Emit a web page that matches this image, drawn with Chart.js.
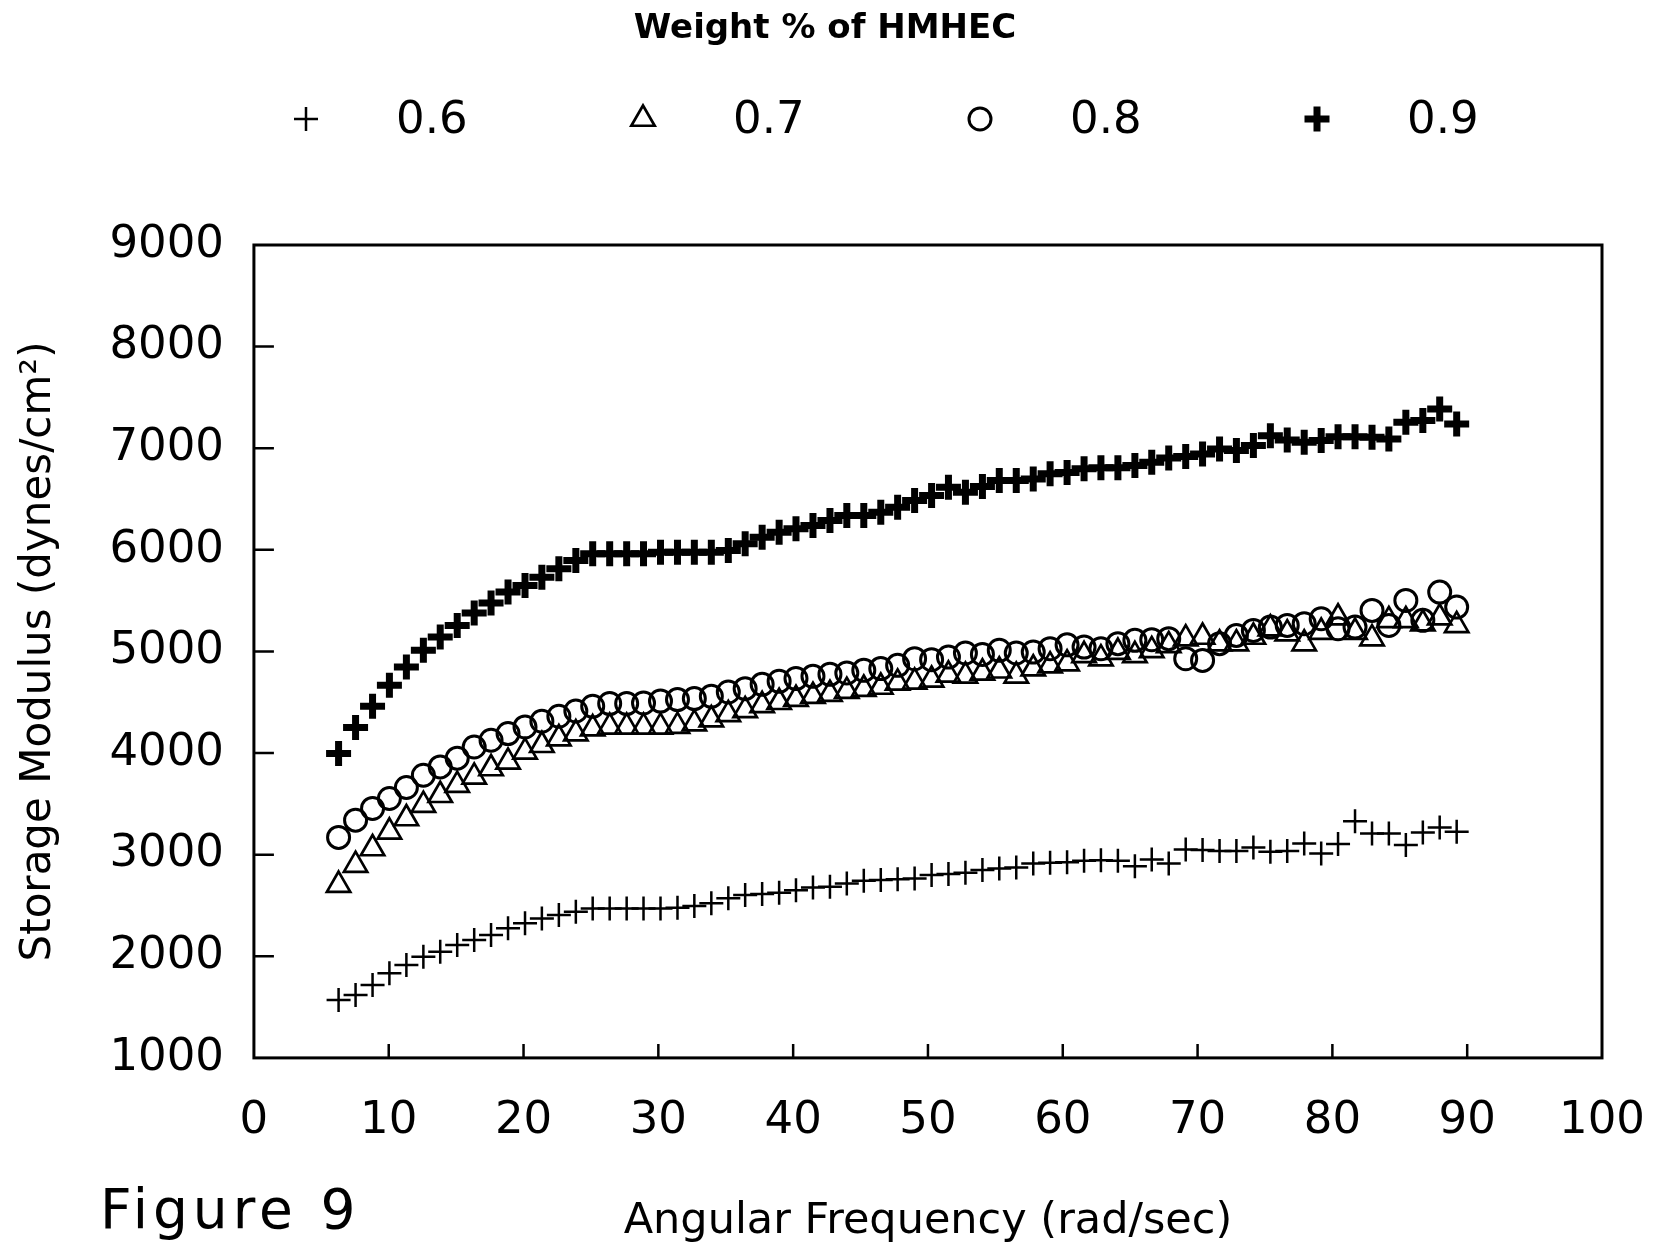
<!DOCTYPE html>
<html>
<head>
<meta charset="utf-8">
<title>Storage Modulus vs Angular Frequency</title>
<script src="https://cdn.jsdelivr.net/npm/chart.js@4.4.1/dist/chart.umd.min.js"></script>
<style>
    html, body { margin: 0; padding: 0; background: #fff; }
    #plot { display: block; }
</style>
</head>
<body>
<canvas id="plot" width="1653" height="1248"></canvas>
<script>
// angular frequency (rad/sec) of each measurement
const freq = [6.28, 7.54, 8.80, 10.05, 11.31, 12.57, 13.82, 15.08, 16.34, 17.59,
    18.85, 20.11, 21.36, 22.62, 23.88, 25.13, 26.39, 27.65, 28.90, 30.16,
    31.42, 32.67, 33.93, 35.19, 36.44, 37.70, 38.96, 40.21, 41.47, 42.73,
    43.98, 45.24, 46.50, 47.75, 49.01, 50.27, 51.52, 52.78, 54.04, 55.29,
    56.55, 57.81, 59.06, 60.32, 61.58, 62.83, 64.09, 65.35, 66.60, 67.86,
    69.12, 70.37, 71.63, 72.88, 74.14, 75.40, 76.65, 77.91, 79.17, 80.42,
    81.68, 82.94, 84.19, 85.45, 86.71, 87.96, 89.22];

// storage modulus (dynes/cm2) per weight % of HMHEC
const g06 = [1570, 1619, 1718, 1833, 1915, 1996, 2045, 2111, 2160, 2209,
    2275, 2324, 2373, 2406, 2438, 2471, 2471, 2471, 2471, 2471,
    2478, 2494, 2521, 2570, 2602, 2612, 2625, 2651, 2678, 2684,
    2717, 2743, 2750, 2757, 2766, 2799, 2809, 2822, 2848, 2865,
    2875, 2914, 2920, 2925, 2940, 2946, 2940, 2887, 2953, 2914,
    3052, 3045, 3035, 3035, 3071, 3028, 3035, 3110, 3012, 3104,
    3330, 3209, 3209, 3094, 3219, 3268, 3225];

const g07 = [2701, 2897, 3061, 3225, 3356, 3487, 3585, 3684, 3765, 3848,
    3913, 4011, 4077, 4143, 4192, 4241, 4257, 4257, 4257, 4257,
    4265, 4290, 4330, 4380, 4420, 4470, 4500, 4530, 4560, 4580,
    4610, 4630, 4650, 4690, 4700, 4720, 4770, 4760, 4790, 4810,
    4760, 4830, 4860, 4880, 4962, 4929, 4994, 4962, 5011, 5060,
    5126, 5142, 5077, 5077, 5142, 5224, 5175, 5077, 5191, 5332,
    5191, 5126, 5306, 5306, 5273, 5332, 5256];

const g08 = [3170, 3340, 3455, 3553, 3661, 3782, 3864, 3950, 4060, 4126,
    4192, 4257, 4313, 4362, 4414, 4460, 4487, 4487, 4493, 4512,
    4526, 4536, 4558, 4601, 4634, 4676, 4706, 4733, 4755, 4775,
    4788, 4814, 4831, 4863, 4929, 4919, 4945, 4985, 4971, 5011,
    4985, 4994, 5027, 5065, 5043, 5027, 5077, 5109, 5116, 5126,
    4929, 4912, 5077, 5158, 5207, 5240, 5256, 5273, 5322, 5224,
    5240, 5404, 5256, 5502, 5306, 5584, 5437];

const g09 = [3995, 4251, 4460, 4667, 4847, 5011, 5142, 5256, 5378, 5476,
    5584, 5650, 5731, 5814, 5895, 5961, 5961, 5961, 5961, 5977,
    5977, 5977, 5977, 5994, 6060, 6125, 6174, 6207, 6239, 6289,
    6338, 6338, 6370, 6419, 6485, 6534, 6616, 6567, 6623, 6682,
    6682, 6698, 6748, 6760, 6797, 6807, 6807, 6829, 6862, 6905,
    6918, 6944, 6993, 6977, 7026, 7124, 7082, 7058, 7075, 7114,
    7114, 7108, 7091, 7255, 7272, 7387, 7239];

const seriesLabels = ["0.6", "0.7", "0.8", "0.9"];
const seriesValues = [g06, g07, g08, g09];

const xTickStep = 10;
const yTickStep = 1000;

const FONT = "'DejaVu Sans', 'Liberation Sans', sans-serif";
const INK = "#000";

// marker look for each concentration
const markerStyles = [
    { pointStyle: "cross", pointRadius: 12, pointBorderWidth: 2.5 },
    { pointStyle: "triangle", pointRadius: 13.5, pointBorderWidth: 2.7 },
    { pointStyle: "circle", pointRadius: 11, pointBorderWidth: 3 },
    { pointStyle: "cross", pointRadius: 12.5, pointBorderWidth: 7 },
];

function make_points(values) {
    var pts = [];
    for (let i = 0; i < freq.length; i++) {
        pts.push({ x: freq[i], y: values[i] });
    }
    return pts;
}

function build_datasets() {
    var datasets = [];
    for (let k = 0; k < seriesLabels.length; k++) {
        const m = markerStyles[k];
        datasets.push({
            label: seriesLabels[k],
            data: make_points(seriesValues[k]),
            pointStyle: m.pointStyle,
            pointRadius: m.pointRadius,
            pointHoverRadius: m.pointRadius,
            pointBorderWidth: m.pointBorderWidth,
            borderColor: INK,
            backgroundColor: "rgba(0,0,0,0)",
            showLine: false,
        });
    }
    return datasets;
}

// box around the plot plus short inward tick marks
const frameTicks = {
    id: "frameTicks",
    beforeDatasetsDraw(chart) {
        const ctx = chart.ctx;
        const area = chart.chartArea;
        const xs = chart.scales.x;
        const ys = chart.scales.y;
        ctx.save();
        ctx.strokeStyle = INK;
        ctx.lineWidth = 3;
        ctx.strokeRect(area.left, area.top, area.right - area.left, area.bottom - area.top);

        ctx.lineWidth = 2.5;
        ctx.beginPath();
        xs.ticks.forEach((t) => {
            if (t.value <= xs.min || t.value >= xs.max) return;
            const px = xs.getPixelForValue(t.value);
            ctx.moveTo(px, area.bottom);
            ctx.lineTo(px, area.bottom - 14);
        });
        ys.ticks.forEach((t) => {
            if (t.value <= ys.min || t.value >= ys.max) return;
            const py = ys.getPixelForValue(t.value);
            ctx.moveTo(area.left, py);
            ctx.lineTo(area.left + 20, py);
        });
        ctx.stroke();
        ctx.restore();
    }
};

// heading, then one row of markers with their weight %
const seriesKey = {
    id: "seriesKey",
    afterDraw(chart) {
        const ctx = chart.ctx;
        const x0 = 306, step = 337, y = 119, gap = 90;
        ctx.save();
        ctx.fillStyle = INK;
        ctx.font = "bold 34px " + FONT;
        ctx.textAlign = "center";
        ctx.textBaseline = "middle";
        ctx.fillText("Weight % of HMHEC", 825, 29);

        chart.data.datasets.forEach((ds, i) => {
            const mx = x0 + step * i;
            ctx.strokeStyle = INK;
            ctx.fillStyle = "rgba(0,0,0,0)";
            ctx.lineWidth = ds.pointBorderWidth;
            Chart.helpers.drawPoint(ctx, {
                pointStyle: ds.pointStyle,
                radius: ds.pointRadius,
                borderWidth: ds.pointBorderWidth,
                rotation: 0
            }, mx, y);
            ctx.fillStyle = INK;
            ctx.font = "45px " + FONT;
            ctx.textAlign = "left";
            ctx.textBaseline = "middle";
            ctx.fillText(ds.label, mx + gap, y + 2);
        });
        ctx.restore();
    }
};

const caption = {
    id: "caption",
    afterDraw(chart) {
        const ctx = chart.ctx;
        ctx.save();
        ctx.fillStyle = INK;
        ctx.font = "55px " + FONT;
        ctx.letterSpacing = "5px";
        ctx.textAlign = "left";
        ctx.textBaseline = "middle";
        ctx.fillText("Figure 9", 100, 1214);
        ctx.restore();
    }
};

function init_plot(container_name) {
    var ctx = document.getElementById(container_name).getContext("2d");
    const config = {
        type: "scatter",
        data: { datasets: build_datasets() },
        options: {
            responsive: false,
            animation: false,
            devicePixelRatio: 1,
            layout: {
                padding: { left: 0, right: 51, top: 245, bottom: 0 }
            },
            plugins: {
                legend: { display: false },
                tooltip: { enabled: false },
                title: { display: false }
            },
            scales: {
                x: {
                    type: "linear",
                    min: 0,
                    max: 100,
                    grid: { display: false },
                    border: { display: false },
                    ticks: {
                        stepSize: xTickStep,
                        padding: 8,
                        color: INK,
                        // tall line box pushes the labels down from the axis
                        font: { family: FONT, size: 45, lineHeight: 2.1 },
                        maxRotation: 0,
                        callback: (v) => String(v)
                    },
                    title: {
                        display: true,
                        text: "Angular Frequency (rad/sec)",
                        color: INK,
                        font: { family: FONT, size: 43 },
                        padding: { top: 20, bottom: 0 }
                    }
                },
                y: {
                    type: "linear",
                    min: 1000,
                    max: 9000,
                    grid: { display: false },
                    border: { display: false },
                    ticks: {
                        stepSize: yTickStep,
                        padding: 22,
                        color: INK,
                        font: { family: FONT, size: 45 },
                        callback: (v) => String(v)
                    },
                    title: {
                        display: true,
                        text: "Storage Modulus (dynes/cm²)",
                        color: INK,
                        font: { family: FONT, size: 42 },
                        padding: { top: 14, bottom: 23 }
                    }
                }
            }
        },
        plugins: [frameTicks, seriesKey, caption]
    };

    var myChart = new Chart(ctx, config);
    return myChart;
}

init_plot("plot");
</script>
</body>
</html>
